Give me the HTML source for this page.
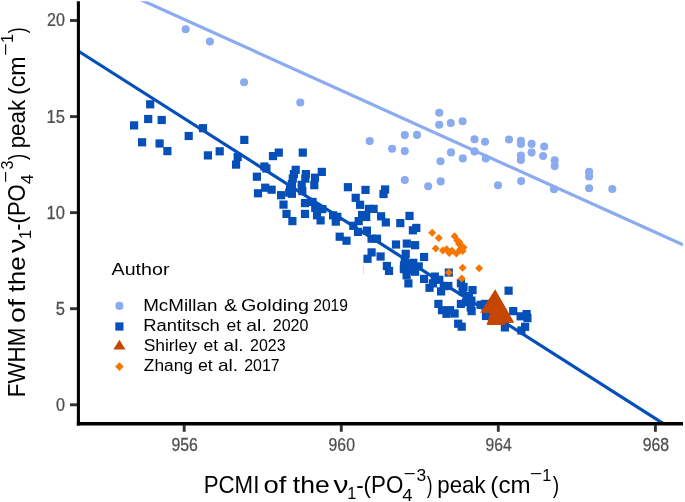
<!DOCTYPE html>
<html><head><meta charset="utf-8"><title>Plot</title>
<style>html,body{margin:0;padding:0;background:#fff}svg{display:block}text{font-family:"Liberation Sans",sans-serif}</style></head><body>
<svg width="685" height="502" viewBox="0 0 685 502">
<rect width="685" height="502" fill="#fff"/>
<defs><clipPath id="panel"><rect x="78.4" y="1.2" width="604.6" height="422.3"/></clipPath></defs>
<g clip-path="url(#panel)">
<line x1="79" y1="51.5" x2="663" y2="423.4" stroke="#054FB9" stroke-width="3.2"/>
<line x1="137" y1="-1.9" x2="683" y2="244.8" stroke="#8BABF1" stroke-width="3.2"/>
<g fill="#054FB9">
<rect x="146.1" y="100.2" width="8.2" height="8.2"/>
<rect x="144.1" y="114.9" width="8.2" height="8.2"/>
<rect x="157.6" y="115.9" width="8.2" height="8.2"/>
<rect x="130.0" y="121.3" width="8.2" height="8.2"/>
<rect x="138.0" y="138.2" width="8.2" height="8.2"/>
<rect x="155.5" y="139.4" width="8.2" height="8.2"/>
<rect x="163.3" y="147.0" width="8.2" height="8.2"/>
<rect x="184.6" y="131.9" width="8.2" height="8.2"/>
<rect x="198.9" y="124.1" width="8.2" height="8.2"/>
<rect x="203.8" y="151.3" width="8.2" height="8.2"/>
<rect x="215.6" y="147.2" width="8.2" height="8.2"/>
<rect x="240.2" y="135.8" width="8.2" height="8.2"/>
<rect x="233.6" y="152.9" width="8.2" height="8.2"/>
<rect x="232.0" y="160.5" width="8.2" height="8.2"/>
<rect x="252.8" y="172.6" width="8.2" height="8.2"/>
<rect x="274.7" y="148.5" width="8.2" height="8.2"/>
<rect x="268.9" y="152.0" width="8.2" height="8.2"/>
<rect x="298.7" y="148.5" width="8.2" height="8.2"/>
<rect x="260.3" y="162.4" width="8.2" height="8.2"/>
<rect x="261.1" y="183.6" width="8.2" height="8.2"/>
<rect x="267.5" y="185.6" width="8.2" height="8.2"/>
<rect x="253.9" y="189.2" width="8.2" height="8.2"/>
<rect x="291.6" y="165.7" width="8.2" height="8.2"/>
<rect x="289.8" y="170.0" width="8.2" height="8.2"/>
<rect x="288.7" y="174.5" width="8.2" height="8.2"/>
<rect x="287.8" y="179.8" width="8.2" height="8.2"/>
<rect x="286.0" y="185.2" width="8.2" height="8.2"/>
<rect x="287.8" y="189.7" width="8.2" height="8.2"/>
<rect x="277.0" y="191.1" width="8.2" height="8.2"/>
<rect x="279.4" y="200.5" width="8.2" height="8.2"/>
<rect x="282.4" y="209.8" width="8.2" height="8.2"/>
<rect x="288.3" y="217.0" width="8.2" height="8.2"/>
<rect x="301.8" y="170.0" width="8.2" height="8.2"/>
<rect x="301.2" y="174.5" width="8.2" height="8.2"/>
<rect x="297.6" y="180.7" width="8.2" height="8.2"/>
<rect x="298.2" y="187.0" width="8.2" height="8.2"/>
<rect x="317.7" y="167.8" width="8.2" height="8.2"/>
<rect x="310.9" y="173.6" width="8.2" height="8.2"/>
<rect x="310.2" y="181.1" width="8.2" height="8.2"/>
<rect x="343.8" y="183.1" width="8.2" height="8.2"/>
<rect x="300.9" y="199.0" width="8.2" height="8.2"/>
<rect x="308.4" y="197.8" width="8.2" height="8.2"/>
<rect x="300.9" y="209.8" width="8.2" height="8.2"/>
<rect x="311.1" y="203.7" width="8.2" height="8.2"/>
<rect x="318.3" y="205.0" width="8.2" height="8.2"/>
<rect x="312.9" y="211.2" width="8.2" height="8.2"/>
<rect x="316.5" y="216.3" width="8.2" height="8.2"/>
<rect x="329.0" y="211.2" width="8.2" height="8.2"/>
<rect x="333.2" y="212.7" width="8.2" height="8.2"/>
<rect x="331.7" y="217.5" width="8.2" height="8.2"/>
<rect x="361.4" y="185.8" width="8.2" height="8.2"/>
<rect x="381.0" y="185.4" width="8.2" height="8.2"/>
<rect x="379.4" y="189.9" width="8.2" height="8.2"/>
<rect x="351.6" y="193.7" width="8.2" height="8.2"/>
<rect x="356.0" y="200.7" width="8.2" height="8.2"/>
<rect x="364.8" y="204.8" width="8.2" height="8.2"/>
<rect x="369.5" y="204.8" width="8.2" height="8.2"/>
<rect x="358.0" y="210.9" width="8.2" height="8.2"/>
<rect x="362.1" y="212.9" width="8.2" height="8.2"/>
<rect x="377.0" y="212.2" width="8.2" height="8.2"/>
<rect x="381.7" y="218.3" width="8.2" height="8.2"/>
<rect x="354.6" y="217.0" width="8.2" height="8.2"/>
<rect x="349.2" y="221.7" width="8.2" height="8.2"/>
<rect x="353.9" y="227.8" width="8.2" height="8.2"/>
<rect x="362.8" y="226.5" width="8.2" height="8.2"/>
<rect x="335.6" y="232.6" width="8.2" height="8.2"/>
<rect x="342.4" y="236.6" width="8.2" height="8.2"/>
<rect x="367.5" y="234.6" width="8.2" height="8.2"/>
<rect x="372.9" y="234.6" width="8.2" height="8.2"/>
<rect x="405.4" y="211.8" width="8.2" height="8.2"/>
<rect x="396.2" y="219.0" width="8.2" height="8.2"/>
<rect x="412.2" y="223.8" width="8.2" height="8.2"/>
<rect x="408.8" y="226.2" width="8.2" height="8.2"/>
<rect x="391.9" y="240.4" width="8.2" height="8.2"/>
<rect x="402.7" y="239.5" width="8.2" height="8.2"/>
<rect x="411.0" y="241.1" width="8.2" height="8.2"/>
<rect x="367.5" y="248.3" width="8.2" height="8.2"/>
<rect x="363.4" y="254.7" width="8.2" height="8.2"/>
<rect x="376.5" y="252.4" width="8.2" height="8.2"/>
<rect x="382.8" y="261.9" width="8.2" height="8.2"/>
<rect x="384.9" y="266.8" width="8.2" height="8.2"/>
<rect x="401.6" y="249.7" width="8.2" height="8.2"/>
<rect x="400.7" y="256.9" width="8.2" height="8.2"/>
<rect x="399.8" y="265.0" width="8.2" height="8.2"/>
<rect x="402.5" y="271.2" width="8.2" height="8.2"/>
<rect x="404.3" y="279.3" width="8.2" height="8.2"/>
<rect x="420.0" y="252.9" width="8.2" height="8.2"/>
<rect x="409.2" y="258.7" width="8.2" height="8.2"/>
<rect x="414.6" y="262.3" width="8.2" height="8.2"/>
<rect x="405.6" y="265.9" width="8.2" height="8.2"/>
<rect x="411.0" y="267.6" width="8.2" height="8.2"/>
<rect x="420.0" y="274.8" width="8.2" height="8.2"/>
<rect x="430.7" y="272.5" width="8.2" height="8.2"/>
<rect x="435.2" y="275.7" width="8.2" height="8.2"/>
<rect x="428.9" y="279.3" width="8.2" height="8.2"/>
<rect x="444.7" y="268.5" width="8.2" height="8.2"/>
<rect x="425.4" y="283.7" width="8.2" height="8.2"/>
<rect x="437.0" y="287.3" width="8.2" height="8.2"/>
<rect x="439.7" y="281.9" width="8.2" height="8.2"/>
<rect x="444.2" y="281.9" width="8.2" height="8.2"/>
<rect x="456.8" y="279.2" width="8.2" height="8.2"/>
<rect x="459.4" y="282.8" width="8.2" height="8.2"/>
<rect x="468.4" y="286.0" width="8.2" height="8.2"/>
<rect x="458.5" y="287.3" width="8.2" height="8.2"/>
<rect x="464.8" y="291.8" width="8.2" height="8.2"/>
<rect x="434.3" y="299.8" width="8.2" height="8.2"/>
<rect x="437.9" y="306.1" width="8.2" height="8.2"/>
<rect x="442.4" y="309.7" width="8.2" height="8.2"/>
<rect x="446.0" y="306.1" width="8.2" height="8.2"/>
<rect x="450.5" y="309.4" width="8.2" height="8.2"/>
<rect x="456.8" y="299.8" width="8.2" height="8.2"/>
<rect x="462.1" y="298.1" width="8.2" height="8.2"/>
<rect x="466.6" y="303.4" width="8.2" height="8.2"/>
<rect x="467.5" y="307.0" width="8.2" height="8.2"/>
<rect x="476.5" y="300.7" width="8.2" height="8.2"/>
<rect x="481.0" y="299.8" width="8.2" height="8.2"/>
<rect x="454.1" y="319.6" width="8.2" height="8.2"/>
<rect x="457.6" y="322.6" width="8.2" height="8.2"/>
<rect x="481.9" y="311.9" width="8.2" height="8.2"/>
<rect x="504.5" y="286.6" width="8.2" height="8.2"/>
<rect x="500.8" y="323.3" width="8.2" height="8.2"/>
<rect x="509.1" y="307.0" width="8.2" height="8.2"/>
<rect x="516.5" y="312.2" width="8.2" height="8.2"/>
<rect x="522.5" y="310.0" width="8.2" height="8.2"/>
<rect x="523.3" y="314.0" width="8.2" height="8.2"/>
<rect x="521.0" y="322.7" width="8.2" height="8.2"/>
<rect x="517.3" y="326.4" width="8.2" height="8.2"/>
<rect x="467.3" y="296.5" width="8.2" height="8.2"/>
<rect x="262.3" y="164.4" width="8.2" height="8.2"/>
<rect x="285.1" y="188.5" width="8.2" height="8.2"/>
<rect x="406.4" y="259.7" width="8.2" height="8.2"/>
<rect x="399.9" y="261.4" width="8.2" height="8.2"/>
<rect x="407.4" y="263.4" width="8.2" height="8.2"/>
</g>
<g fill="#8BABF1">
<circle cx="185.7" cy="29.2" r="4.05"/>
<circle cx="209.9" cy="41.5" r="4.05"/>
<circle cx="244.1" cy="82.2" r="4.05"/>
<circle cx="300.3" cy="102.5" r="4.05"/>
<circle cx="369.7" cy="141.1" r="4.05"/>
<circle cx="392.1" cy="148.7" r="4.05"/>
<circle cx="404.8" cy="135.1" r="4.05"/>
<circle cx="404.8" cy="151.1" r="4.05"/>
<circle cx="417.0" cy="134.9" r="4.05"/>
<circle cx="404.8" cy="180.1" r="4.05"/>
<circle cx="428.2" cy="186.2" r="4.05"/>
<circle cx="440.7" cy="181.4" r="4.05"/>
<circle cx="439.2" cy="112.8" r="4.05"/>
<circle cx="439.2" cy="124.8" r="4.05"/>
<circle cx="450.8" cy="123.1" r="4.05"/>
<circle cx="462.6" cy="121.3" r="4.05"/>
<circle cx="440.5" cy="161.2" r="4.05"/>
<circle cx="451.0" cy="152.4" r="4.05"/>
<circle cx="462.8" cy="158.4" r="4.05"/>
<circle cx="474.5" cy="139.3" r="4.05"/>
<circle cx="474.5" cy="151.4" r="4.05"/>
<circle cx="485.0" cy="141.7" r="4.05"/>
<circle cx="485.8" cy="158.5" r="4.05"/>
<circle cx="498.0" cy="185.3" r="4.05"/>
<circle cx="509.0" cy="139.5" r="4.05"/>
<circle cx="520.9" cy="140.9" r="4.05"/>
<circle cx="520.9" cy="143.9" r="4.05"/>
<circle cx="531.6" cy="143.9" r="4.05"/>
<circle cx="544.2" cy="146.5" r="4.05"/>
<circle cx="520.9" cy="155.6" r="4.05"/>
<circle cx="520.9" cy="160.0" r="4.05"/>
<circle cx="531.6" cy="152.6" r="4.05"/>
<circle cx="543.1" cy="156.1" r="4.05"/>
<circle cx="554.7" cy="160.3" r="4.05"/>
<circle cx="554.7" cy="166.1" r="4.05"/>
<circle cx="521.1" cy="181.1" r="4.05"/>
<circle cx="554.0" cy="189.2" r="4.05"/>
<circle cx="589.1" cy="171.9" r="4.05"/>
<circle cx="589.1" cy="176.4" r="4.05"/>
<circle cx="589.1" cy="188.3" r="4.05"/>
<circle cx="612.3" cy="189.0" r="4.05"/>
</g>
<g fill="#F57600">
<path d="M432.2 228.8L436.2 232.8L432.2 236.8L428.2 232.8Z"/>
<path d="M438.8 234.0L442.8 238.0L438.8 242.0L434.8 238.0Z"/>
<path d="M454.6 232.2L458.6 236.2L454.6 240.2L450.6 236.2Z"/>
<path d="M457.3 236.4L461.3 240.4L457.3 244.4L453.3 240.4Z"/>
<path d="M459.1 239.9L463.1 243.9L459.1 247.9L455.1 243.9Z"/>
<path d="M463.5 243.5L467.5 247.5L463.5 251.5L459.5 247.5Z"/>
<path d="M435.7 244.4L439.7 248.4L435.7 252.4L431.7 248.4Z"/>
<path d="M442.9 246.6L446.9 250.6L442.9 254.6L438.9 250.6Z"/>
<path d="M446.5 245.3L450.5 249.3L446.5 253.3L442.5 249.3Z"/>
<path d="M449.2 248.9L453.2 252.9L449.2 256.9L445.2 252.9Z"/>
<path d="M451.9 246.8L455.9 250.8L451.9 254.8L447.9 250.8Z"/>
<path d="M456.4 249.5L460.4 253.5L456.4 257.5L452.4 253.5Z"/>
<path d="M460.0 246.2L464.0 250.2L460.0 254.2L456.0 250.2Z"/>
<path d="M462.6 247.1L466.6 251.1L462.6 255.1L458.6 251.1Z"/>
<path d="M462.6 263.8L466.6 267.8L462.6 271.8L458.6 267.8Z"/>
<path d="M479.1 264.2L483.1 268.2L479.1 272.2L475.1 268.2Z"/>
<path d="M448.8 268.6L452.8 272.6L448.8 276.6L444.8 272.6Z"/>
<path d="M461.7 274.4L465.7 278.4L461.7 282.4L457.7 278.4Z"/>
<path d="M459.3 238.0L463.3 242.0L459.3 246.0L455.3 242.0Z"/>
<path d="M461.6 242.0L465.6 246.0L461.6 250.0L457.6 246.0Z"/>
<path d="M460.8 244.6L464.8 248.6L460.8 252.6L456.8 248.6Z"/>
</g>
<rect x="363.1" y="265.3" width="0.7" height="8.8" fill="#C3D3F6"/>
<path fill="#C44601" d="M495.2 289.2L480.2 312.7L490.0 312.9L486.6 325.0L505.2 325.0L505.7 323.0L514.3 322.8Z"/>
</g>
<path d="M78.4 1.2V425.5" fill="none" stroke="#000" stroke-width="3.1"/><path d="M76.85 423.8H683" fill="none" stroke="#000" stroke-width="3.4"/>
<g stroke="#333" stroke-width="2.9">
<line x1="70" y1="404.8" x2="77" y2="404.8"/>
<line x1="70" y1="308.7" x2="77" y2="308.7"/>
<line x1="70" y1="212.65" x2="77" y2="212.65"/>
<line x1="70" y1="116.6" x2="77" y2="116.6"/>
<line x1="70" y1="20.5" x2="77" y2="20.5"/>
<line x1="184.2" y1="425" x2="184.2" y2="431.8"/>
<line x1="341.3" y1="425" x2="341.3" y2="431.8"/>
<line x1="498.3" y1="425" x2="498.3" y2="431.8"/>
<line x1="655.4" y1="425" x2="655.4" y2="431.8"/>
</g>
<circle cx="119.4" cy="305.9" r="4.05" fill="#8BABF1"/>
<rect x="115.3" y="322.4" width="8.2" height="8.2" fill="#054FB9"/>
<path d="M119.4 339.7L125.4 349.5L113.4 349.5Z" fill="#C44601"/>
<path d="M119.4 362.3L123.7 366.6L119.4 370.9L115.1 366.6Z" fill="#F57600"/>
<text transform="translate(171.49 451.10) scale(0.8901 1)" font-size="17.8" fill="#4D4D4D" stroke="#4D4D4D" stroke-width="0.25">956</text>
<text transform="translate(328.59 451.10) scale(0.8870 1)" font-size="17.8" fill="#4D4D4D" stroke="#4D4D4D" stroke-width="0.25">960</text>
<text transform="translate(485.59 451.10) scale(0.8838 1)" font-size="17.8" fill="#4D4D4D" stroke="#4D4D4D" stroke-width="0.25">964</text>
<text transform="translate(642.69 451.10) scale(0.8901 1)" font-size="17.8" fill="#4D4D4D" stroke="#4D4D4D" stroke-width="0.25">968</text>
<text transform="translate(55.91 410.75) scale(0.9080 1)" font-size="17.8" fill="#4D4D4D" stroke="#4D4D4D" stroke-width="0.25">0</text>
<text transform="translate(55.80 314.65) scale(0.9294 1)" font-size="17.8" fill="#4D4D4D" stroke="#4D4D4D" stroke-width="0.25">5</text>
<text transform="translate(46.54 218.60) scale(0.9274 1)" font-size="17.8" fill="#4D4D4D" stroke="#4D4D4D" stroke-width="0.25">10</text>
<text transform="translate(46.54 122.55) scale(0.9326 1)" font-size="17.8" fill="#4D4D4D" stroke="#4D4D4D" stroke-width="0.25">15</text>
<text transform="translate(47.03 26.45) scale(0.9022 1)" font-size="17.8" fill="#4D4D4D" stroke="#4D4D4D" stroke-width="0.25">20</text>
<text transform="translate(111.60 275.40) scale(1.1560 1)" font-size="17.0" fill="#000">Author</text>
<text transform="translate(143.19 311.00) scale(1.1608 1)" font-size="16.2" fill="#000">McMillan</text>
<text transform="translate(223.89 311.00) scale(1.2178 1)" font-size="16.2" fill="#000">&amp;</text>
<text transform="translate(241.03 311.00) scale(1.2179 1)" font-size="16.2" fill="#000">Golding</text>
<text transform="translate(313.23 311.00) scale(0.9644 1)" font-size="16.2" fill="#000">2019</text>
<text transform="translate(143.22 331.00) scale(1.1346 1)" font-size="16.2" fill="#000">Rantitsch</text>
<text transform="translate(226.45 331.00) scale(1.0851 1)" font-size="16.2" fill="#000">et</text>
<text transform="translate(246.29 331.00) scale(1.1914 1)" font-size="16.2" fill="#000">al.</text>
<text transform="translate(272.71 331.00) scale(0.9905 1)" font-size="16.2" fill="#000">2020</text>
<text transform="translate(143.65 351.20) scale(1.0754 1)" font-size="16.2" fill="#000">Shirley</text>
<text transform="translate(203.55 351.20) scale(1.0773 1)" font-size="16.2" fill="#000">et</text>
<text transform="translate(223.60 351.20) scale(1.1715 1)" font-size="16.2" fill="#000">al.</text>
<text transform="translate(250.11 351.20) scale(0.9847 1)" font-size="16.2" fill="#000">2023</text>
<text transform="translate(143.87 371.30) scale(1.0692 1)" font-size="16.2" fill="#000">Zhang</text>
<text transform="translate(197.94 371.30) scale(1.0929 1)" font-size="16.2" fill="#000">et</text>
<text transform="translate(217.99 371.30) scale(1.1781 1)" font-size="16.2" fill="#000">al.</text>
<text transform="translate(244.21 371.30) scale(0.9817 1)" font-size="16.2" fill="#000">2017</text>
<g transform="translate(205.5 493.2)">
<text transform="translate(-1.82 0.00) scale(0.9601 1)" font-size="23.2" fill="#000">PCMI</text>
<text transform="translate(58.03 0.00) scale(1.1836 1)" font-size="23.2" fill="#000">of</text>
<text transform="translate(87.26 0.00) scale(1.1438 1)" font-size="23.2" fill="#000">the</text>
<text transform="translate(128.00 0.00) scale(1.2963 1)" font-size="23.2" fill="#000">ν</text>
<text transform="translate(141.70 6.00)" font-size="16.2" fill="#000">1</text>
<text transform="translate(150.64 0.00) scale(0.9632 1)" font-size="23.2" fill="#000">-(PO</text>
<text transform="translate(196.66 8.00) scale(1.1446 1)" font-size="16.2" fill="#000">4</text>
<text transform="translate(198.01 -13.80) scale(1.2750 1)" font-size="16.2" fill="#000">−</text>
<text transform="translate(211.05 -12.00) scale(1.0779 1)" font-size="16.2" fill="#000">3</text>
<text transform="translate(221.33 0.00) scale(0.7419 1)" font-size="23.2" fill="#000">)</text>
<text transform="translate(231.75 0.00) scale(0.9611 1)" font-size="23.2" fill="#000">peak</text>
<text transform="translate(284.84 0.00) scale(1.0413 1)" font-size="23.2" fill="#000">(cm</text>
<text transform="translate(324.19 -13.80) scale(1.3000 1)" font-size="16.2" fill="#000">−</text>
<text transform="translate(336.80 -12.00)" font-size="16.2" fill="#000">1</text>
<text transform="translate(347.32 0.00) scale(0.8226 1)" font-size="23.2" fill="#000">)</text>
</g>
<g transform="translate(25.2 395.4) rotate(-90)">
<text transform="translate(-1.83 0.00) scale(0.9646 1)" font-size="23.2" fill="#000">FWHM</text>
<text transform="translate(72.39 0.00) scale(1.2377 1)" font-size="23.2" fill="#000">of</text>
<text transform="translate(103.17 0.00) scale(1.1083 1)" font-size="23.2" fill="#000">the</text>
<text transform="translate(142.30 0.00) scale(1.2315 1)" font-size="23.2" fill="#000">ν</text>
<text transform="translate(156.40 6.00)" font-size="16.2" fill="#000">1</text>
<text transform="translate(164.65 0.00) scale(0.9483 1)" font-size="23.2" fill="#000">-(PO</text>
<text transform="translate(211.17 8.00) scale(1.1084 1)" font-size="16.2" fill="#000">4</text>
<text transform="translate(212.42 -14.40) scale(1.2625 1)" font-size="16.2" fill="#000">−</text>
<text transform="translate(225.81 -12.60) scale(0.9870 1)" font-size="16.2" fill="#000">3</text>
<text transform="translate(235.52 0.00) scale(0.8065 1)" font-size="23.2" fill="#000">)</text>
<text transform="translate(247.05 0.00) scale(0.9672 1)" font-size="23.2" fill="#000">peak</text>
<text transform="translate(300.40 0.00) scale(0.9993 1)" font-size="23.2" fill="#000">(cm</text>
<text transform="translate(339.47 -14.40) scale(1.3250 1)" font-size="16.2" fill="#000">−</text>
<text transform="translate(352.50 -12.60)" font-size="16.2" fill="#000">1</text>
<text transform="translate(362.22 0.00) scale(0.7581 1)" font-size="23.2" fill="#000">)</text>
</g>
</svg></body></html>
